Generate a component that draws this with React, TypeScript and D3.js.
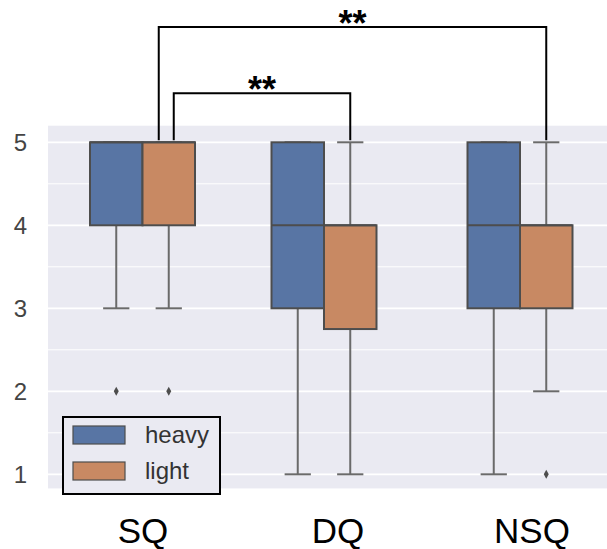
import React from "react";
import { scaleLinear, scaleBand, range } from "d3";

// categories and hues
const categories = ["SQ", "DQ", "NSQ"];
const hues = ["heavy", "light"];
const yTicks = [1, 2, 3, 4, 5];
const yMinor = [1.5, 2.5, 3.5, 4.5];

// box stats per category
const heavyLow = [3, 1, 1];
const heavyQ1 = [4, 3, 3];
const heavyMed = [5, 4, 4];
const heavyQ3 = [5, 5, 5];
const heavyHigh = [5, 5, 5];
const heavyOutliers = [[2], [], []];

const lightLow = [3, 1, 2];
const lightQ1 = [4, 2.75, 3];
const lightMed = [5, 4, 4];
const lightQ3 = [5, 4, 4];
const lightHigh = [5, 5, 5];
const lightOutliers = [[2], [], [1]];

// significance brackets: [from category, to category, label]
const brackets = [
  { from: 0, to: 1, label: "**", level: 5.59, shift: 5 },
  { from: 0, to: 2, label: "**", level: 6.39, shift: -10 },
];

const colors = { heavy: "#5875A4", light: "#C88963" };
const edge = "#4d4d4d";
const whiskerColor = "#6a6a6a";

export default function App() {
  const width = 607;
  const height = 549;

  // category centers (the picture is not evenly spaced)
  const x = scaleLinear().domain([0, 1, 2]).range([142.5, 324, 520]);
  const xLabel = scaleLinear().domain([0, 1, 2]).range([143, 338, 532]);
  const hueBand = scaleBand().domain(hues).range([-52.5, 52.5]).padding(0);
  const bw = hueBand.bandwidth();

  const y = scaleLinear().domain([1, 5]).range([474.3, 142.3]);

  const plotLeft = 48;
  const plotRight = 607;
  const plotTop = y(5.2);
  const plotBottom = y(0.83);

  const stats = {
    heavy: { low: heavyLow, q1: heavyQ1, med: heavyMed, q3: heavyQ3, high: heavyHigh, out: heavyOutliers },
    light: { low: lightLow, q1: lightQ1, med: lightMed, q3: lightQ3, high: lightHigh, out: lightOutliers },
  };

  const font = "Liberation Sans, Arial, sans-serif";

  return (
    <svg width={width} height={height} style={{ position: "absolute", left: 0, top: 0 }}>
      <rect x={0} y={0} width={width} height={height} fill="#fff" />
      <rect x={plotLeft} y={plotTop} width={plotRight - plotLeft} height={plotBottom - plotTop} fill="#EAEAF2" />
      {yMinor.map((v) => (
        <line key={"m" + v} x1={plotLeft} x2={plotRight} y1={y(v)} y2={y(v)} stroke="#fff" strokeWidth={1} />
      ))}
      {yTicks.map((v) => (
        <line key={"g" + v} x1={plotLeft} x2={plotRight} y1={y(v)} y2={y(v)} stroke="#fff" strokeWidth={1.8} />
      ))}
      {yTicks.map((v) => (
        <text key={"t" + v} x={27} y={y(v)} dy="0.35em" textAnchor="end" fontFamily={font} fontSize={24} fill="#444">
          {v}
        </text>
      ))}

      {range(categories.length).map((i) =>
        hues.map((h) => {
          const s = stats[h];
          const x0 = x(i) + hueBand(h)!;
          const cx = x0 + bw / 2;
          const capW = bw / 4;
          return (
            <g key={categories[i] + h}>
              <line x1={cx} x2={cx} y1={y(s.q1[i])} y2={y(s.low[i])} stroke={whiskerColor} strokeWidth={2} />
              <line x1={cx} x2={cx} y1={y(s.q3[i])} y2={y(s.high[i])} stroke={whiskerColor} strokeWidth={2} />
              <line x1={cx - capW} x2={cx + capW} y1={y(s.low[i])} y2={y(s.low[i])} stroke={whiskerColor} strokeWidth={2} />
              <line x1={cx - capW} x2={cx + capW} y1={y(s.high[i])} y2={y(s.high[i])} stroke={whiskerColor} strokeWidth={2} />
              <rect
                x={x0}
                y={y(s.q3[i])}
                width={bw}
                height={y(s.q1[i]) - y(s.q3[i])}
                fill={colors[h]}
                stroke={edge}
                strokeWidth={2}
              />
              <line x1={x0} x2={x0 + bw} y1={y(s.med[i])} y2={y(s.med[i])} stroke={edge} strokeWidth={2} />
              {s.out[i].map((o, k) => (
                <path
                  key={k}
                  transform={`translate(${cx},${y(o)})`}
                  d="M0,-4.5L2.5,0L0,4.5L-2.5,0Z"
                  fill={edge}
                />
              ))}
            </g>
          );
        })
      )}

      {brackets.map((b, k) => {
        const lightC = (i) => x(i) + hueBand("light")! + bw / 2;
        const x1 = lightC(b.from) + b.shift;
        const x2 = lightC(b.to);
        const yt = y(b.level);
        const yb = y(5) - 2;
        return (
          <g key={"b" + k}>
            <path d={`M${x1},${yb}V${yt}H${x2}V${yb}`} fill="none" stroke="#000" strokeWidth={2} />
            <text x={(x1 + x2) / 2} y={yt + 9} textAnchor="middle" fontFamily={font} fontWeight="bold" fontSize={36} fill="#000">
              {b.label}
            </text>
          </g>
        );
      })}

      {categories.map((c, i) => (
        <text key={c} x={xLabel(i)} y={543} textAnchor="middle" fontFamily={font} fontSize={35} fill="#000">
          {c}
        </text>
      ))}

      <g>
        <rect x={63} y={417} width={157} height={77} fill="#EAEAF2" stroke="#000" strokeWidth={2} />
        {hues.map((h, k) => (
          <g key={h} transform={`translate(0,${k * 36})`}>
            <rect x={73} y={426} width={52} height={18} fill={colors[h]} stroke={edge} strokeWidth={1.2} />
            <text x={145} y={443} fontFamily={font} fontSize={24} fill="#333">
              {h}
            </text>
          </g>
        ))}
      </g>
    </svg>
  );
}
